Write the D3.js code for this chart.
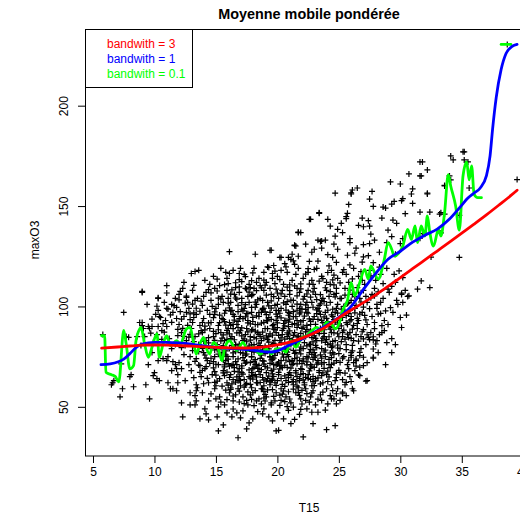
<!DOCTYPE html>
<html>
<head>
<meta charset="utf-8">
<script src="https://cdn.jsdelivr.net/npm/d3@7/dist/d3.min.js"></script>
<style>
  body { margin: 0; background: #fff; }
  text { font-family: "Liberation Sans", Arial, Helvetica, sans-serif; }
</style>
</head>
<body>
<svg id="chart" width="520" height="515"></svg>
<script>
// Axis ticks and legend
const xTicks = [5, 10, 15, 20, 25, 30, 35, 40];
const yTicks = [50, 100, 150, 200];
const legendLabels = ["bandwith = 3", "bandwith = 1", "bandwith = 0.1"];
const legendColors = ["#ff0000", "#0000ff", "#00ff00"];

// Observations [T15, maxO3] : sparse edges of the cloud
const obsEdges = [
[5.8,86],[7.5,97],[9.0,107],[9.4,101],[10.3,104],[10.3,98],[10.4,95],[8.8,92],[9.8,90],[7.7,85],[8.6,85],[9.5,90],[9.6,89],[10.3,90],[9.1,89],[9.0,92],
[6.5,61],[6.6,62],[6.7,63],[7.2,55],[7.4,59],[8.3,60],[8.0,65],[8.1,66],[9.3,61],[9.6,54],[10.2,64],[10.4,63],[11.1,62],[11.3,59],[11.5,59],[11.9,62],
[11.8,58],[12.2,52],[12.3,45],[12.9,51],[13.3,51],[9.5,71],[10.0,67],[9.9,65.5],[11.1,75],[11.7,71],[11.8,69],[10.3,73],[11.0,73],[11.4,68],[12.9,57],
[13.4,58],[13.3,55.6],[13.4,53],[13.7,44],[14.4,43.5],[14.2,46.5],[14.1,49],[15.1,45],[15.2,50],[15.2,38],[16.8,34.6],[17.5,39],[15.9,47],[16.7,47],
[17.2,48],[18.0,44],[18.8,46.5],[19.6,43],[19.9,38],[18.7,51.5],[19.5,52],[11.1,98.7],[11.8,99.5],[12.6,104.5],[10.5,94.5],[9.8,93.7],[9.0,90.4],
[7.9,84.6],[7.3,71.4],
[29.7,103],[30.2,102],[30.6,105],[30.0,94.5],[30.5,95.7],[30.1,89.5],[29.3,84],[29.3,77],[29.2,99.4],[28.8,97.8],[28.2,96.2],[28.5,90.4],[28.5,87],
[27.8,83.3],[27.8,78.8],[27.8,74.7],[27.0,74.7],[27.0,70.5],[26.7,65.5],[27.2,62.8],[26.2,58],[25.6,55.6],[25.3,56.5],[25.1,53.2],[24.3,55.6],[24.1,51.5],
[24.8,51.5],[23.3,47.3],[22.8,47.3],[22.4,49],[22.9,41.6],[21.8,46.2],[21.1,41.6],[24.0,38.6],[24.7,40.6],[22.1,35],[20.1,38.3],[21.4,43.7],[21.3,49.8],
[20.9,48.2],[20.3,53.2],[20.2,50.7],[23.6,53.2],[23.7,57.3],[28.0,81.3],[27.0,83.8],[27.4,84.6],[27.8,84.9],[26.7,77.1],[26.4,73.8],[26.0,74.7],
[30.1,106.6],[27.3,63],[26.6,65.9],[26.1,59],[25.3,57.3],[24.4,54],[24.8,56.5],[24.5,58.1],[24.9,59],[25.6,62.2],[26.0,62.6],[26.7,69.7],[27.8,74.2],
[16.3,45],[17.7,42],[18.9,49],[19.3,45],[20.5,44],[15.6,41],[17.0,44.5],[20.0,47],
[11.6,100.4],[12.1,97.4],[12.5,101.6],[12.9,96.3],[11.3,95.8],[12.2,93.7],[12.7,90.6],[11.9,88.6],[11.4,92.1],[12.4,85.1],[10.8,87.2],[11.2,81.9],
[10.6,83.6],[12.9,86.1],[13.1,101.2],[12.0,103.3],[11.0,106.7],[10.2,100.1],[10.7,91.4],[9.7,86.7]
];

// Observations [T15, maxO3] : upper part of the cloud
const obsUpper = [
[34.1,175],[35.2,177],[31.6,172],[30.7,166],[32.2,168],[31.6,165],[34.0,165],[34.1,163],[29.2,162],[30.0,161],[24.7,156.4],[26.1,158],[26.0,156],
[27.7,157.3],[31.0,158.6],[30.9,156],[32.2,156.4],[33.6,160.3],[27.5,153.5],[30.2,153.7],[30.1,152.7],[29.5,152.3],[29.3,151],[27.8,149.8],[28.6,149.5],
[28.8,149],[31.0,151.3],[31.6,147],[30.4,146.2],[25.8,150.8],[23.4,146.7],[25.7,146.4],[25.6,143.7],[22.7,143.4],[24.1,143.4],[25.2,141.4],[26.9,144],
[27.4,142.7],[27.5,140],[28.5,144],[29.4,143],[29.7,141.4],[33.3,146.7],[32.4,147],[26.6,140.4],[27.0,139.7],[24.9,138.4],[24.7,135],[25.3,136.8],
[21.7,137],[23.3,133],[23.5,132.4],[21.4,130.5],[22.3,131],[25.9,133.8],[25.9,131.8],[27.6,136],[27.5,131.3],[27.0,130.8],[29.0,138],[29.3,134.8],
[28.9,131.8],[30.0,131.3],[30.2,133.8],[31.6,134],[31.8,136.3],[33.3,136.6],[34.8,124.4],[32.4,109.4],[20.3,124.4],[20.9,124.4],[23.0,128.5],[23.6,129],
[24.9,128.5],[24.1,125.8],[24.5,124.4],[25.7,125.5],[26.3,126.5],[27.0,124.7],[27.4,125.3],[30.1,106],[30.7,105.3],[29.3,110],[29.0,108.6],[27.9,105.3],
[28.2,107.3],[30.2,114.4],[29.5,116],[29.9,117.7],[31.4,108.6],[31.7,112.7],[35.6,159],[35.5,172],[35.1,177],[35.2,173],[34.3,173],[33.6,160],
[31.8,172],[31.7,165],[32.2,156],[33.2,146],[33.6,146],[34.8,145.4],[38.7,230.5],[39.5,163.2],[16.1,127.3],[19.5,128],[13.0,116.4],[13.3,117.4],
[11.0,110.4],[9.0,107.5],[12.1,107.5],[16.1,116.4],[16.9,116.4],[17.1,112.4],[16.9,113.4],[19.3,119.4],[19.7,120.4],[19.6,116.4],[19.8,111.4],
[18.6,110.4],[16.0,111.4],[15.3,110.4],[16.6,109.4],[17.8,109.4],[12.6,105.1],[10.3,104.3],[19.4,128],[20.2,124.4],[21.4,130.3],[21.7,136.8],
[21.1,123.4],[21.3,122.7],[19.2,119.7],[20.7,119.7],[21.7,125],[26.0,156.6],[26.5,159],[22.6,143.4],[23.4,146.4],[24.3,140],[25.6,144.7],[21.9,136.8],
[21.5,130.1],[23.6,132.6],[21.4,121],[32.5,124.6],[18.2,126],[22.8,127],[24.6,131],[26.4,129],[28.3,127],[29.6,126],[21.2,126],[23.9,133],[27.9,133],
[15.1,113.6],[16.6,111.8],[17.4,114.9],[18.9,113.1],[19.8,117.6],[21.0,110.8],[22.3,116.1],[23.4,112.6],[24.6,115.6],[25.9,120.7],[26.8,117.3],
[27.8,121.8],[20.6,121.3],[22.6,122.4],[24.2,120.2],[18.0,116.7],[23.0,118.4],[25.1,111.7],[28.6,111.4],[21.9,111.2],
[22.5,118.8],[23.3,122.6],[24.1,116.9],[24.8,121.9],[25.4,118.3],[26.1,113.7],[26.9,122.1],[27.6,115.2],[28.3,119.6],[23.7,113.9]
];

// Observations [T15, maxO3] : maxO3 between 100 and 120
const obsHigh = [
[12.4,112],[13.6,118],[14.1,113],[14.8,115],[15.4,119],[15.9,114],[16.4,118],[17.3,116],[17.7,111],[18.1,119],[18.5,114],[18.9,117],[19.1,112],
[20.0,115],[20.5,111],[20.8,117],[21.2,113],[21.7,119],[22.1,114],[22.5,117],[22.9,111],[23.2,119],[23.6,115],[24.0,112],[24.4,118],[24.9,114],
[25.3,117],[25.8,112],[26.2,119],[26.6,115],[27.1,111],[27.5,118],[28.0,113],[28.4,116],[28.9,119],[29.6,112],[14.5,111],[15.8,117],[17.0,119],
[18.3,112],[19.6,114],[20.3,118],[21.5,116],[22.8,113],[24.3,111],[25.6,116],[26.9,113],[13.2,110.5],
[11.4,101],[12.0,106],[12.7,102],[13.1,108],[13.5,104],[13.9,100.5],[14.2,107],[14.6,103],[14.9,109],[15.2,101],[15.5,105],[15.9,108],[16.2,102],
[16.5,106],[16.8,100.5],[17.1,104],[17.4,109],[17.7,102],[18.0,106],[18.3,101],[18.6,104],[18.9,108],[19.2,102],[19.5,106],[19.8,100.5],[20.1,104],
[20.4,108],[20.7,101],[21.0,106],[21.3,103],[21.6,109],[21.9,101],[22.2,105],[22.5,108],[22.8,102],[23.1,106],[23.4,100.5],[23.7,104],[24.0,108],
[24.3,102],[24.6,106],[24.9,101],[25.2,104],[25.5,109],[25.8,102],[26.1,106],[26.4,100.5],[26.7,104],[27.0,108],[27.3,102],[27.7,106],[28.1,101],
[28.6,104],[29.1,107],[29.8,101],[30.4,108],[12.3,109],[13.3,103],[14.0,105],[14.7,100],[15.6,102],[16.0,104],[16.9,107],[17.6,105],[18.1,109],
[18.8,103],[19.4,109],[20.0,101],[20.6,105],[21.2,100],[21.8,107],[22.4,102],[23.0,109],[23.6,103],[24.2,105],[24.8,109],[25.4,100],[26.0,103],
[26.6,107],[27.2,105],[27.9,109],[28.4,102],[10.8,102],[11.7,104],
[13.8,102.6],[14.6,106.8],[15.4,103.7],[16.3,108.3],[17.1,101.9],[17.9,105.4],[18.7,109.2],[19.5,102.8],[20.3,106.3],[21.1,103.1],[21.9,108.7],
[22.7,104.6],[23.5,101.3],[24.3,107.4],[25.1,103.9],[25.9,108.1],[26.8,102.2],[27.6,104.3],[15.1,107.7],[17.4,100.9],[19.9,108.6],[22.3,100.8],
[24.7,104.8],[16.6,104.2],[19.1,105.6],[21.6,105.3],[23.9,109.3],[26.3,104.9],[18.3,107.9],[20.8,109.6],
[14.4,108.4],[15.2,104.1],[16.0,101.6],[16.9,109.7],[17.7,107.1],[18.4,103.3],[19.3,100.3],[20.0,106.7],[20.8,102.4],[21.6,101.2],[22.4,106.2],
[23.2,103.4],[24.0,100.6],[24.8,106.5],[25.7,101.5],[26.5,109.4],
[15.7,110.9],[16.7,103.6],[17.5,108.7],[18.2,102.1],[19.0,110.6],[19.7,104.9],[20.5,101.8],[21.4,110.2],[22.1,103.6],[22.9,107.3],[23.8,102.4],
[24.6,110.7],[25.5,105.6],[17.9,112.9],[20.2,113.4],[22.6,111.1],[24.5,113.2],[16.2,106.1],[21.0,107.9],[23.5,105.9]
];

// Observations [T15, maxO3] : maxO3 between 80 and 100
const obsMid = [
[10.1,96],[10.9,93],[11.5,97],[12.0,91],[12.4,95],[12.8,99],[13.1,92],[13.4,96],[13.7,90.5],[14.0,94],[14.3,98],[14.6,92],[14.9,96],[15.2,90.5],
[15.5,94],[15.8,98],[16.1,92],[16.4,96],[16.7,91],[17.0,95],[17.3,99],[17.6,93],[17.9,97],[18.2,91],[18.5,95],[18.8,99],[19.1,93],[19.4,97],[19.7,91],
[20.0,95],[20.3,99],[20.6,93],[20.9,97],[21.2,91],[21.5,95],[21.8,99],[22.1,93],[22.4,97],[22.7,91],[23.0,95],[23.3,99],[23.6,93],[23.9,97],[24.2,91],
[24.5,95],[24.8,99],[25.1,93],[25.4,97],[25.7,91],[26.0,95],[26.3,99],[26.6,93],[26.9,97],[27.3,91],[27.7,95],[28.1,99],[28.7,93],[29.4,97],
[11.0,99],[11.8,94],[12.6,97],[13.2,94.5],[13.9,92],[14.5,96],[15.0,99],[15.7,92.5],[16.3,98],[16.9,94],[17.5,96.5],[18.0,92.5],[18.7,97],[19.3,94.5],
[19.9,98],[20.5,91.5],[21.0,96.5],[21.6,93],[22.3,98.5],[22.9,93.5],[23.5,96],[24.1,92.5],[24.7,97],[25.3,94.5],[25.9,98],[26.5,91.5],[27.1,95.5],
[27.9,92],[28.4,96.5],[29.0,91],
[9.2,85],[9.9,82],[10.6,88],[11.2,84],[11.7,81],[12.2,87],[12.6,83],[13.0,89],[13.3,85],[13.6,81],[13.9,87],[14.2,83],[14.5,89],[14.8,85],[15.1,81],
[15.4,87],[15.7,83],[16.0,89],[16.3,85],[16.6,81],[16.9,87],[17.2,83],[17.5,89],[17.8,85],[18.1,81],[18.4,87],[18.7,83],[19.0,89],[19.3,85],[19.6,81],
[19.9,87],[20.2,83],[20.5,89],[20.8,85],[21.1,81],[21.4,87],[21.7,83],[22.0,89],[22.3,85],[22.6,81],[22.9,87],[23.2,83],[23.5,89],[23.8,85],[24.1,81],
[24.4,87],[24.7,83],[25.0,89],[25.3,85],[25.6,81],[25.9,87],[26.2,83],[26.5,89],[26.8,85],[27.2,81],[27.6,87],[28.1,83],[28.7,88],[29.6,81],
[8.9,80.5],[10.2,86],[11.0,90],[11.9,85.5],[12.5,80.5],[13.2,82.5],[13.8,88],[14.4,84.5],[15.0,86.5],[15.6,80.5],[16.2,84],[16.8,89.5],[17.4,86],
[18.0,88.5],[18.6,80.5],[19.2,83.5],[19.8,88.5],[20.4,86],[21.0,84],[21.6,89.5],[22.2,82],[22.8,84.5],[23.4,86.5],[24.0,83.5],[24.6,89.5],[25.2,82.5],
[25.8,84.5],[26.4,86],[27.0,88.5],[27.5,83.5],[28.3,86],[28.9,82],
[12.8,84.7],[13.6,86.3],[14.4,81.9],[15.2,88.4],[15.9,83.6],[16.7,86.8],[17.5,82.4],[18.2,87.7],[18.9,84.2],[19.7,81.6],[20.4,88.1],[21.2,83.3],
[21.9,86.6],[22.7,81.2],[23.4,87.4],[24.2,84.9],[24.9,80.8],[25.7,86.2],[26.6,82.7],[27.3,85.9],[13.1,80.3],[14.9,83.1],[16.4,88.9],[17.9,80.9],
[19.4,86.4],[20.9,81.4],[22.4,88.6],[23.9,82.1],[25.4,88.2],[14.1,88.3],[17.1,85.3],[20.1,85.6],[23.1,80.6],[26.1,88.7],[15.6,85.8],[18.6,85.1],
[21.6,84.8],[24.6,86.9],[12.3,89.1],[27.9,88.9],
[12.9,93.4],[13.7,97.6],[14.4,91.8],[15.3,95.7],[16.1,99.3],[16.8,92.6],[17.6,96.4],[18.4,90.9],[19.1,95.9],[19.9,93.1],[20.7,98.2],[21.4,91.4],
[22.2,95.2],[22.9,99.6],[23.7,91.9],[24.4,95.8],[25.2,98.7],[25.9,92.8],[26.7,96.2],[27.5,98.9],[13.4,99.1],[15.8,90.7],[17.2,93.9],[18.8,98.4],
[20.3,94.3],[21.9,97.1],[23.3,93.6],[24.9,91.2],[26.3,96.8],[14.8,94.4],[17.9,99.5],[20.9,92.2],[24.1,98.1],[27.2,93.3],[16.5,95.1],[19.6,90.4],
[22.6,93.8],[25.6,95.4],
[14.0,82.6],[14.8,87.6],[15.5,84.2],[16.3,80.6],[17.0,87.9],[17.8,83.2],[18.5,86.1],[19.3,82.2],[20.0,89.4],[20.8,86.9],[21.5,81.8],[22.3,87.3],
[23.0,85.3],[23.8,88.4],[24.5,82.6],[25.3,87.1],[26.0,84.1],[26.9,87.4],
[13.2,96.8],[14.1,90.2],[14.9,97.3],[15.6,93.5],[16.4,91.1],[17.2,97.8],[18.0,94.6],[18.7,91.7],[19.5,99.2],[20.2,96.6],[21.0,93.7],[21.7,90.8],
[22.5,99.4],[23.2,96.4],[24.0,94.1],[24.7,92.2],[25.5,97.5],[26.2,90.6],[27.0,99.7],
[15.4,82.8],[16.1,86.3],[16.9,81.2],[17.6,87.3],[18.3,83.9],[19.0,80.2],[19.6,85.7],[20.3,81.9],[21.0,87.8],[21.7,85.2],[22.4,80.4],[23.1,84.1],
[23.8,86.6],[24.5,80.2],[17.1,89.3],[18.8,87.2],[20.6,83.7],[22.1,89.7],[23.6,82.9],[25.0,84.9],[15.9,88.1],[17.7,80.3],[19.2,88.9],[20.9,89.9],
[22.9,82.3],[16.5,83.4],[19.8,83.1],[21.3,85.6],[24.3,88.7],[18.1,84.6],
[15.7,96.6],[16.5,93.2],[17.1,98.6],[17.8,91.3],[18.5,96.9],[19.2,92.8],[19.9,96.2],[20.6,90.3],[21.3,94.9],[22.0,98.7],[22.7,92.6],[23.4,97.7],
[24.2,90.1],[24.9,96.7],[16.2,90.5],[18.2,99.6],[20.0,91.8],[21.8,96.3],[23.8,94.8],[25.6,91.9],[17.4,94.8],[19.0,97.3],[20.9,95.6],[22.4,90.6],
[24.5,98.6],[16.8,97.4],[21.6,98.1],[23.1,91.1],[18.9,92.1],[26.0,93.4],
[17.3,83.8],[17.9,88.2],[18.5,81.7],[19.1,85.4],[19.7,88.7],[20.3,84.4],[20.9,86.2],[21.5,80.7],[22.1,84.9],[22.7,87.8],[17.6,91.8],[18.3,95.3],
[18.9,99.1],[19.5,93.6],[20.1,97.9],[20.7,92.9],[21.3,97.4],[21.9,92.3],[22.5,96.6],[23.2,98.3],
[23.7,84.2],[24.3,81.4],[24.9,86.4],[25.5,83.7],[26.1,80.6],[23.9,90.7],[24.6,93.4],[25.2,90.3],[25.8,96.4],[26.5,94.1],
[15.3,91.9],[16.2,97.6],[15.9,86.9],[16.6,80.9]
];

// Observations [T15, maxO3] : maxO3 below 80
const obsLow = [
[9.8,77],[10.7,74],[11.4,79],[12.0,72],[12.4,76],[12.8,71],[13.1,78],[13.4,74],[13.7,70.5],[14.0,77],[14.3,73],[14.6,79],[14.9,75],[15.2,71],[15.5,77],
[15.8,73],[16.1,79],[16.4,75],[16.7,71],[17.0,77],[17.3,73],[17.6,79],[17.9,75],[18.2,71],[18.5,77],[18.8,73],[19.1,79],[19.4,75],[19.7,71],[20.0,77],
[20.3,73],[20.6,79],[20.9,75],[21.2,71],[21.5,77],[21.8,73],[22.1,79],[22.4,75],[22.7,71],[23.0,77],[23.3,73],[23.6,79],[23.9,75],[24.2,71],[24.5,77],
[24.8,73],[25.1,79],[25.4,75],[25.7,71],[26.0,77],[26.4,73],[26.8,79],[27.3,72],[28.2,77],[28.8,71],
[12.2,79.5],[12.9,75],[13.6,77.5],[14.2,70],[14.8,72.5],[15.4,75.5],[16.0,71.5],[16.6,77.5],[17.2,74.5],[17.8,72],[18.4,79.5],[19.0,76.5],[19.6,73.5],
[20.2,70.5],[20.8,76],[21.4,74],[22.0,71.5],[22.6,77],[23.2,79.5],[23.8,72],[24.4,74.5],[25.0,76.5],[25.6,78.5],[26.2,72],[26.7,75.5],[11.5,72.5],
[11.9,66],[12.5,63],[13.0,68],[13.4,61],[13.8,65],[14.1,69],[14.4,62],[14.7,66],[15.0,60.5],[15.3,64],[15.6,68],[15.9,62],[16.2,66],[16.5,69.5],
[16.8,63],[17.1,67],[17.4,61],[17.7,65],[18.0,69],[18.3,62],[18.6,66],[18.9,60.5],[19.2,64],[19.5,68],[19.8,62],[20.1,66],[20.4,69.5],[20.7,63],
[21.0,67],[21.3,61],[21.6,65],[21.9,69],[22.2,62],[22.5,66],[22.8,60.5],[23.1,64],[23.4,68],[23.7,62],[24.0,66],[24.3,69.5],[24.7,63],[25.1,67],
[25.5,61],[25.9,65],[26.3,68],
[13.2,64.5],[14.0,61.5],[14.9,67.5],[15.7,65.5],[16.4,63.5],[17.0,60.5],[17.9,67],[18.7,68.5],[19.4,61],[20.0,63],[20.9,64.5],[21.5,68],[22.1,66.5],
[22.9,62.5],[23.6,65.5],[24.4,61],[25.3,63.5],[25.8,69],[12.2,69],[16.9,69],[19.1,67],
[13.9,57],[14.4,53],[14.9,59],[15.3,55],[15.7,51],[16.1,57],[16.4,53],[16.8,59],[17.2,55],[17.6,51],[18.0,57],[18.3,53],[18.7,59],[19.1,55],[19.5,51],
[19.9,57],[20.3,59],[20.7,55],[21.1,52],[21.5,57],[21.9,54],[22.3,59],[22.7,55],[23.1,51],[23.5,56],[24.0,59],[24.6,54],[15.0,54],[16.6,56],[18.5,54],
[19.8,53],[21.7,59.5],[22.9,58],[13.5,59.5],[17.9,59.5],[20.9,57.5],
[14.3,64.2],[15.1,62.8],[15.9,67.3],[16.7,64.9],[17.5,61.7],[18.2,66.1],[18.9,63.4],[19.7,68.8],[20.4,61.2],[21.1,65.7],[21.8,63.1],[22.6,67.9],
[23.3,64.4],[24.1,62.6],[24.8,66.3],[17.1,69.2],[18.6,62.1],[20.8,69.6],[22.2,60.9],[15.5,60.3],[13.7,67.2],[16.3,61.4],[19.3,65.3],[21.5,62.4],
[23.8,69.1],[25.5,66.8],[14.8,69.4],[17.8,64.3],[20.1,67.2],[22.9,65.1],
[13.3,72.6],[14.1,75.8],[14.9,78.3],[15.6,73.2],[16.4,76.9],[17.1,70.4],[17.9,77.6],[18.6,74.1],[19.3,78.9],[20.1,72.3],[20.8,77.2],[21.6,74.7],
[22.4,70.9],[23.1,75.4],[23.9,78.2],[24.6,71.8],[25.3,74.3],[26.1,77.9],[13.9,79.1],[15.2,76.2],[16.8,73.9],[18.3,71.1],[19.8,75.6],[21.3,78.1],
[22.9,73.6],[24.3,76.8],[25.8,73.2],[14.5,71.6],[17.4,78.8],[20.6,70.7],[23.6,71.3],[26.4,70.3],[15.9,75.1],[18.9,72.8],[21.9,76.4],[24.9,79.3],
[16.1,70.2],[19.5,73.4],[22.7,78.6],
[14.6,56.4],[15.8,58.3],[16.9,52.4],[17.8,55.9],[18.9,57.6],[19.7,55.2],[20.6,52.6],[21.3,58.8],[22.4,56.6],[23.3,53.8],[16.2,59.4],[19.2,58.4],
[21.8,55.7],[18.1,50.6],[15.4,52.3],[22.0,51.4],
[15.0,65.8],[15.7,69.9],[16.5,67.7],[17.3,63.6],[18.1,69.7],[18.8,64.6],[19.6,66.4],[20.3,64.1],[21.1,69.3],[21.9,66.2],[22.7,63.7],[23.4,67.1],
[24.2,64.9],[25.0,68.2],[16.0,60.8],[20.6,60.2],[23.0,60.6],
[14.2,74.3],[15.0,71.2],[15.8,77.9],[16.6,72.5],[17.4,75.7],[18.2,73.5],[19.0,70.1],[19.8,77.3],[20.5,74.8],[21.3,71.7],[22.1,73.9],[22.8,76.1],
[23.6,74.2],[24.4,79.6],[25.1,72.1],[26.0,75.6],[13.6,70.8],
[16.2,58.7],[16.9,63.2],[17.6,57.4],[18.4,61.9],[19.0,56.2],[19.9,60.7],[20.5,57.9],[21.2,62.6],[22.0,58.2],[22.8,56.9],[23.5,61.4],[17.3,59.8],
[18.0,63.8],[19.5,63.1],[21.6,60.3],[23.1,62.9],[20.2,55.8],[18.8,58.9],[16.6,62.3],[22.5,64.2],
[15.6,66.9],[16.3,70.6],[16.9,65.2],[17.7,68.4],[18.3,64.9],[18.9,71.3],[19.6,63.8],[20.2,68.9],[20.9,66.1],[21.6,71.4],[22.3,64.7],[23.0,69.6],
[23.7,66.9],[24.4,71.1],[17.0,63.1],[18.5,67.6],[19.9,70.8],[21.3,63.6],[22.8,70.2],[24.1,67.8],[16.1,64.6],[17.4,71.8],[19.2,69.4],[20.6,65.4],
[22.0,68.7],[23.3,71.9],[18.0,65.7],[21.8,64.1],[24.8,64.6],[19.4,62.4],
[15.3,78.9],[16.0,73.8],[16.8,79.4],[17.5,72.3],[18.1,77.2],[18.7,75.7],[19.4,71.6],[20.0,79.1],[20.7,73.2],[21.4,76.6],[22.1,72.8],[22.9,78.4],
[23.5,75.9],[24.2,73.6],[16.4,71.1],[17.9,74.9],[19.1,77.8],[20.4,76.3],[21.9,79.8],[23.2,71.2],[15.8,75.9],[17.2,76.7],[18.5,70.6],[19.7,74.3],
[21.0,72.5],[22.5,74.4],[24.6,76.2],[16.6,78.6],[20.9,78.7],[23.8,77.3],
[16.4,48.9],[17.3,51.6],[18.4,47.6],[19.0,52.9],[20.8,50.1],[21.9,48.7],[22.6,52.3],[17.9,53.7],[15.9,53.6],[23.9,48.4],
[17.2,66.3],[17.8,61.2],[18.4,69.1],[19.1,62.8],[19.7,65.1],[20.3,70.4],[20.9,62.1],[21.5,66.9],[22.1,63.4],[22.7,69.3],[18.1,72.6],[18.8,78.4],
[19.4,74.9],[20.0,71.3],[20.6,77.6],[21.2,73.1],[21.8,78.2],[22.4,72.4],[23.0,74.6],[17.5,76.3],
[16.9,57.8],[17.5,53.2],[18.2,58.1],[18.9,54.4],[19.6,58.6],[20.4,56.3],[21.0,53.9],[21.7,57.2],[22.3,53.2],[16.4,55.4],
[15.1,78.6],[14.6,74.2],[13.9,68.1],[14.9,62.2],[15.7,70.9],[16.8,67.4]
];

// Smoothed curves [T15, maxO3]
const smoothBw3 = [
[5.7,79.2],[7,79.8],[8,80.3],[9,80.7],[10,80.8],[11,80.7],[12,80.5],[13,80.2],[14,79.9],[15,79.6],[16,79.4],[17,79.3],[18,79.4],[19,79.9],
[20,80.8],[21,82.2],[22,84.2],[23,86.8],[24,90],[25,94.3],[26,98.2],[27,101.9],[28,105.8],[29,110],[30,114.3],[31,118.8],[32,123.2],[33,127.6],
[34,132],[35,136.5],[36,141],[37,145.6],[38,150.4],[39,155.3],[39.5,157.9]
];
const smoothBw1 = [
[5.65,71],[6.4,71.4],[7,72.3],[7.5,73.8],[8,76.5],[8.5,79.5],[9,81.3],[10,82.1],[11,82.1],[12,81.8],[13,81.2],[14,80.3],[15,79.6],[16,79.1],
[17,78.8],[18,78.2],[19,77.4],[19.5,77.3],[20,77.9],[21,80.8],[22,83.8],[23,87.2],[24,90.5],[25,94.5],[26,100],[27,108.5],[28,116.5],[29,123.5],
[30,127.5],[31,132],[32,135.5],[33,138.5],[34,143.5],[35,150.5],[35.5,154],[36,156.5],[36.5,159],[37,165],[37.3,175],[37.5,188],[37.8,204],
[38.2,218],[38.6,226],[39.1,229.5],[39.5,230.5]
];
const smoothBw01 = [
[5.7,85.4],[5.95,85.4],[6.05,67.2],[6.5,66],[6.8,65.2],[7.1,62.4],[7.5,88.1],[7.7,81.3],[8.0,68.9],[8.3,70.5],[8.5,82.9],[8.8,88.8],[8.9,89.6],
[9.2,81.3],[9.5,74.7],[9.8,79.7],[10.2,86.3],[10.4,74.7],[10.7,81.3],[11.0,85.4],[11.3,80.4],[11.8,82.9],[12.1,81.3],[12.6,88.8],[12.9,89.6],
[13.2,81.3],[13.4,76.3],[13.7,81.3],[14.0,84.6],[14.2,79.7],[14.5,76.3],[14.8,82.1],[15.2,78.8],[15.5,73],[15.7,78.8],[16.1,82.9],[16.7,78],
[17.2,82.1],[17.6,78],[18.0,79.7],[18.6,76.3],[19.1,78.8],[19.5,76.3],[19.9,78.8],[20.3,78.8],[20.7,77.2],[21.1,82.9],[21.5,79.7],[22.0,84.6],
[22.4,85.4],[22.8,87.9],[23.2,89.6],[23.6,87.9],[24.0,92.1],[24.4,91.2],[24.7,88.8],[25.1,92.9],[25.3,97.8],[25.7,103],[26.0,111.9],[26.3,105.3],
[26.7,111.9],[27.1,118.5],[27.4,113.6],[27.6,120.2],[28.2,113.6],[28.7,123.5],[29.0,131.8],[29.3,128.5],[29.5,125.1],[30.2,130.1],[30.6,138.4],
[30.9,133.4],[31.2,140.1],[31.4,131.8],[31.7,140.1],[32.0,135.1],[32.2,145.1],[32.4,136.8],[32.7,130.1],[33.1,138.4],[33.3,135.1],[33.6,146.7],
[33.9,165.7],[34.1,160],[34.5,150],[34.8,138],[35.1,165],[35.4,172],[35.6,163],[35.8,170],[36.0,156],[36.3,154.2],[36.6,154.2]
];
const smoothBw01Tail = [[38.2,230.5],[39.0,230.5]];

const svg = d3.select("#chart");
const x = d3.scaleLinear().domain([4.35, 40.85]).range([85, 533.7]);
const y = d3.scaleLinear().domain([25.5, 238.2]).range([456, 29]);

// Title
svg.append("text").attr("x", 309).attr("y", 19).attr("text-anchor", "middle")
  .attr("font-size", 14.4).attr("font-weight", "bold").text("Moyenne mobile pondérée");

// Axis labels
svg.append("text").attr("x", 309).attr("y", 511.5).attr("text-anchor", "middle")
  .attr("font-size", 12).text("T15");
svg.append("text").attr("transform", "translate(39,240) rotate(-90)").attr("text-anchor", "middle")
  .attr("font-size", 12).text("maxO3");

// Bottom axis
const xAxis = svg.append("g").attr("transform", "translate(0,456)")
  .call(d3.axisBottom(x).tickValues(xTicks).tickSize(7).tickPadding(4).tickFormat(d3.format("d")));
xAxis.select(".domain").remove();
xAxis.selectAll("text").attr("font-size", 12).attr("font-family", null).attr("fill", "#000");
xAxis.selectAll("line").attr("stroke", "#000");

// Left axis (rotated labels)
const yAxis = svg.append("g").attr("transform", "translate(85,0)")
  .call(d3.axisLeft(y).tickValues(yTicks).tickSize(7).tickFormat(d3.format("d")));
yAxis.select(".domain").remove();
yAxis.selectAll("line").attr("stroke", "#000");
yAxis.selectAll("text").attr("font-size", 12).attr("font-family", null).attr("fill", "#000")
  .attr("x", null).attr("dy", null).attr("text-anchor", "middle")
  .attr("transform", "translate(-17,0) rotate(-90)");

// Plot box
svg.append("rect").attr("x", 85.5).attr("y", 29.5).attr("width", 450).attr("height", 426.5)
  .attr("fill", "none").attr("stroke", "#000").attr("stroke-width", 1);

// Scatter of observations drawn as plus marks
const allObs = [].concat(obsEdges, obsUpper, obsHigh, obsMid, obsLow);
svg.append("g").selectAll("path").data(allObs).join("path")
  .attr("transform", d => `translate(${x(d[0])},${y(d[1])})`)
  .attr("d", "M-3,0H3M0,-3V3")
  .attr("stroke", "#000").attr("stroke-width", 1.2).attr("fill", "none");

// Smoothed curves
const line = d3.line().x(d => x(d[0])).y(d => y(d[1]));
const smoothLine = d3.line().x(d => x(d[0])).y(d => y(d[1])).curve(d3.curveMonotoneX);
const curves = svg.append("g").attr("fill", "none").attr("stroke-width", 2.8)
  .attr("stroke-linejoin", "round").attr("stroke-linecap", "round");
curves.append("path").attr("d", smoothLine(smoothBw01)).attr("stroke", legendColors[2]);
curves.append("path").attr("d", line(smoothBw01Tail)).attr("stroke", legendColors[2]);
curves.append("path").attr("d", smoothLine(smoothBw1)).attr("stroke", legendColors[1]);
curves.append("path").attr("d", smoothLine(smoothBw3)).attr("stroke", legendColors[0]);

// Legend
svg.append("rect").attr("x", 85.5).attr("y", 29.5).attr("width", 107).attr("height", 58)
  .attr("fill", "#fff").attr("stroke", "#000").attr("stroke-width", 1);
svg.append("g").selectAll("text").data(legendLabels).join("text")
  .attr("x", 107).attr("y", (d, i) => 47.5 + i * 15)
  .attr("font-size", 12).attr("fill", (d, i) => legendColors[i]).text(d => d);
</script>
</body>
</html>
